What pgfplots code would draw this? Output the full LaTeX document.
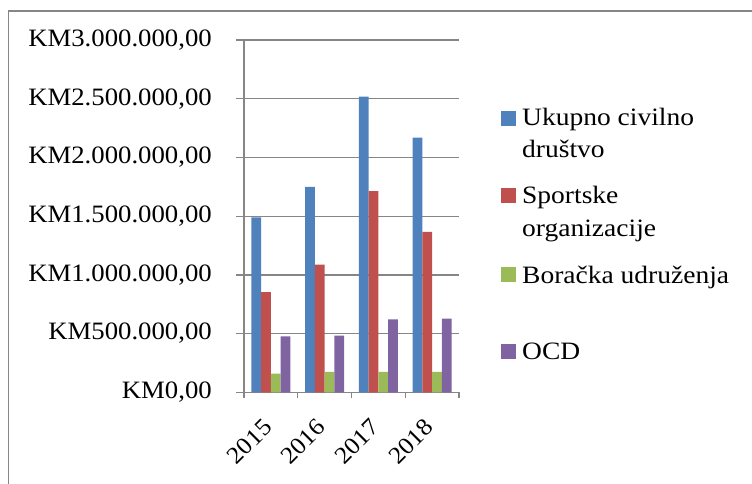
\documentclass[border=0pt]{standalone}
\usepackage{fontspec}
\setmainfont{Liberation Serif}[FakeStretch=1.07]
\newfontfamily\legfont{Liberation Serif}[FakeStretch=1.1]
\usepackage{pgfplots}
\pgfplotsset{compat=1.18}
\definecolor{cblue}{RGB}{79,129,189}
\definecolor{cred}{RGB}{192,80,77}
\definecolor{cgreen}{RGB}{155,187,89}
\definecolor{cpurple}{RGB}{128,100,162}
\definecolor{gridgray}{RGB}{134,134,134}
\begin{document}
\begin{tikzpicture}
\useasboundingbox (0,0) rectangle (752pt,483pt);
\draw[gridgray, line width=1.6pt] (8.5pt,-5pt) -- (8.5pt,472pt) -- (760pt,472pt);
\begin{axis}[
  at={(244pt,90.7pt)}, anchor=south west,
  scale only axis, width=215pt, height=352.3pt,
  xmin=-0.5, xmax=3.5, ymin=0, ymax=3000000,
  ybar=0pt, bar width=9.75pt,
  axis x line=bottom, axis y line=left,
  axis line style={gridgray, line width=1.3pt, -},
  ytick={0,500000,1000000,1500000,2000000,2500000,3000000},
  yticklabels={{KM0,00},{KM500.000,00},{KM1.000.000,00},{KM1.500.000,00},{KM2.000.000,00},{KM2.500.000,00},{KM3.000.000,00}},
  scaled y ticks=false,
  ymajorgrids, grid style={gridgray, line width=1.3pt},
  tick align=outside, major tick length=8pt, minor tick length=6pt,
  tick style={gridgray, line width=1.3pt},
  xtick={0,1,2,3}, xticklabels={2015,2016,2017,2018},
  major x tick style={draw=none},
  minor xtick={-0.5,0.5,1.5,2.5,3.5},
  yticklabel style={font=\fontsize{25}{30}\selectfont, anchor=east, inner sep=0pt, xshift=-24pt},
  xticklabel style={font=\fontsize{24}{29}\selectfont, xshift=-9pt, yshift=-17pt, rotate=45, anchor=north east, inner sep=0pt},
]
\addplot[fill=cblue, draw=none] coordinates {(0,1489000) (1,1750000) (2,2517000) (3,2168000)};
\addplot[fill=cred, draw=none] coordinates {(0,852000) (1,1088000) (2,1713000) (3,1366000)};
\addplot[fill=cgreen, draw=none] coordinates {(0,159000) (1,173000) (2,173000) (3,173000)};
\addplot[fill=cpurple, draw=none] coordinates {(0,477000) (1,483000) (2,622000) (3,628000)};
\end{axis}
\begin{scope}[every node/.style={anchor=base west, inner sep=0pt, font=\legfont\fontsize{25}{30}\selectfont}]
\fill[cblue] (501pt,357pt) rectangle (516pt,372pt);
\node at (522pt,357pt) {Ukupno civilno};
\node at (522pt,326pt) {društvo};
\fill[cred] (501pt,280pt) rectangle (516pt,295pt);
\node at (522pt,280pt) {Sportske};
\node at (522pt,247pt) {organizacije};
\fill[cgreen] (501pt,201pt) rectangle (516pt,216pt);
\node at (522pt,200pt) {Boračka udruženja};
\fill[cpurple] (501pt,124pt) rectangle (516pt,139pt);
\node at (522pt,124pt) {OCD};
\end{scope}
\end{tikzpicture}
\end{document}
